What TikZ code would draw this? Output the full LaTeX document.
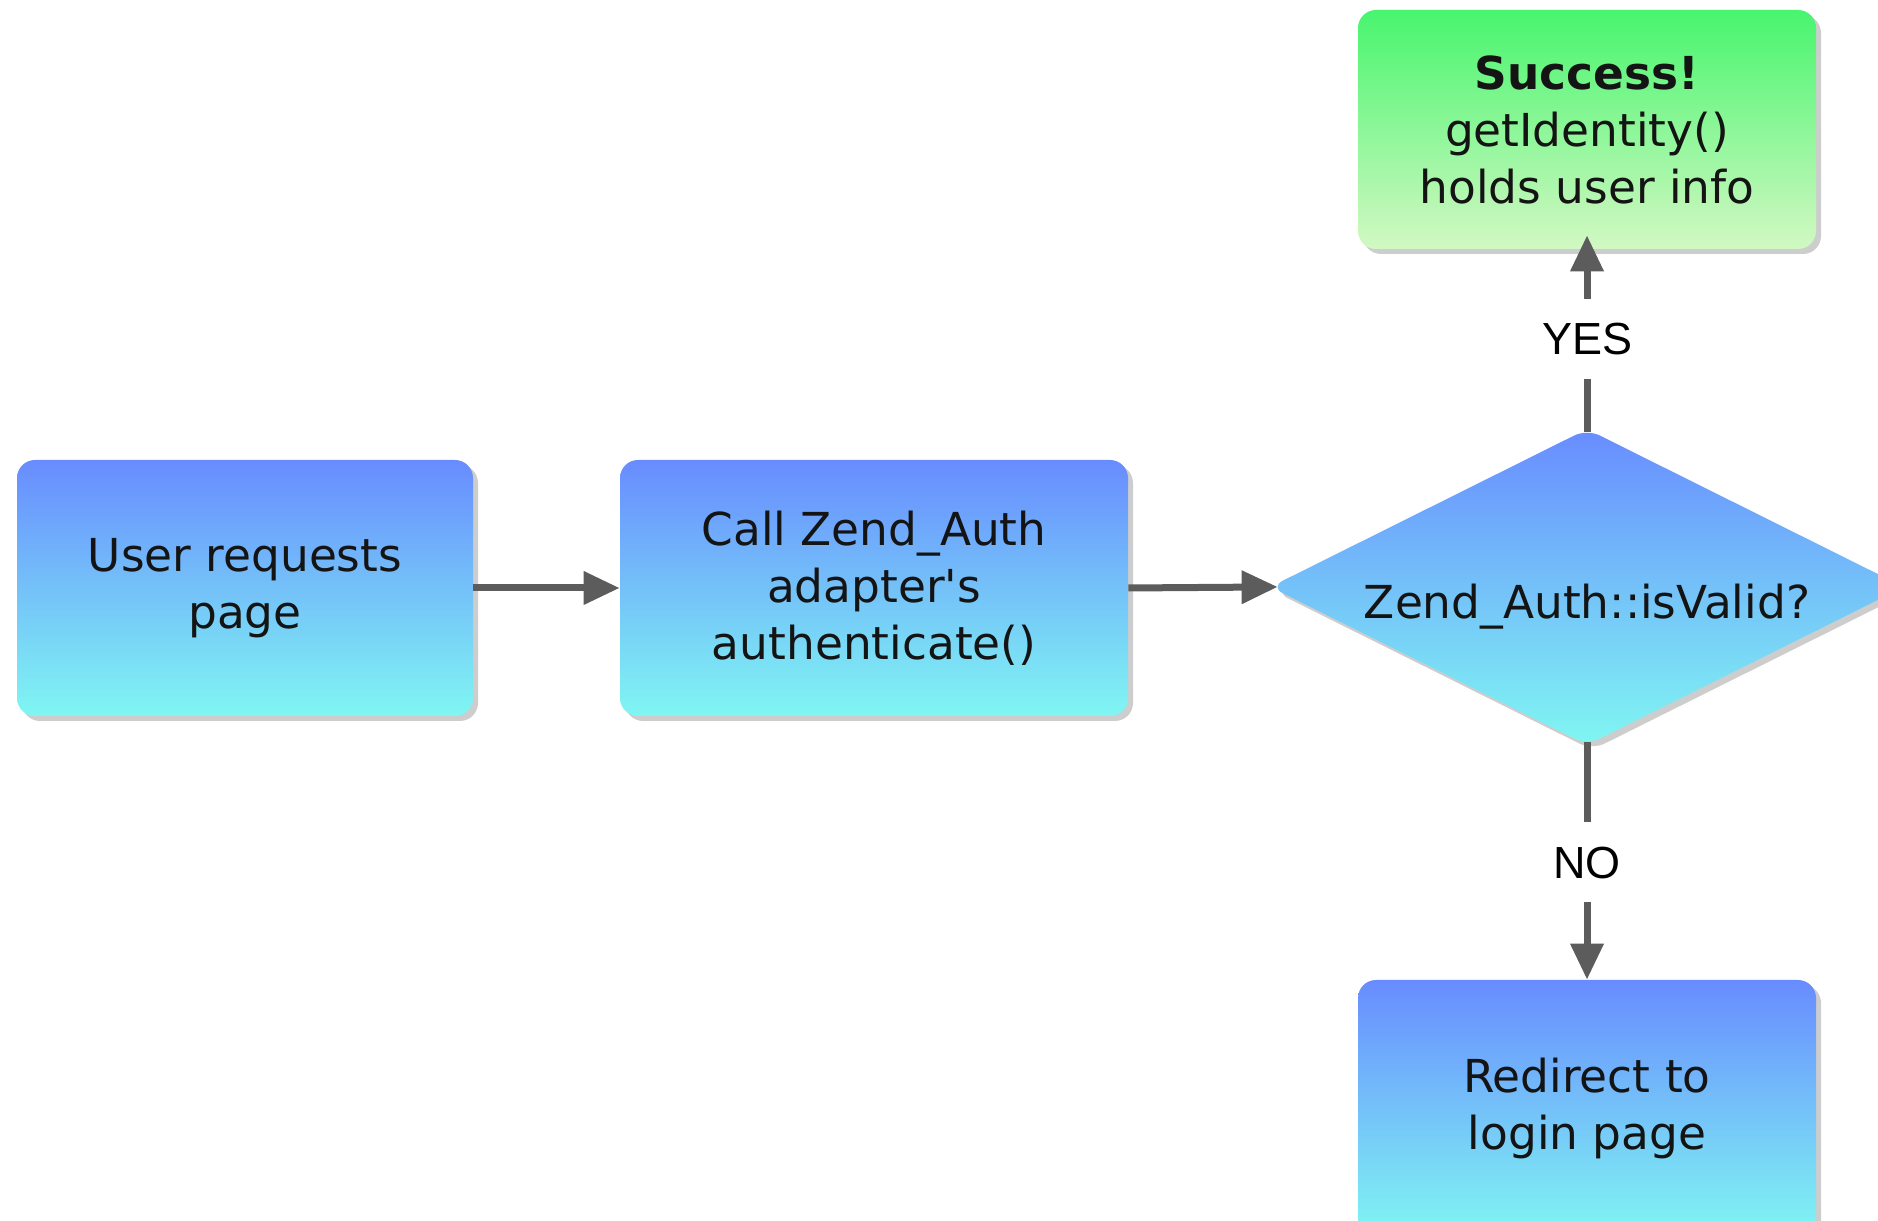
\documentclass[tikz,border=0pt]{standalone}
\usepackage{fontspec}
\setmainfont{DejaVu Sans}
\newfontfamily\lblfont{Liberation Sans}
\usetikzlibrary{arrows.meta,shapes.geometric,shadows}
\definecolor{btop}{RGB}{104,140,255}
\definecolor{bbot}{RGB}{128,246,242}
\definecolor{gtop}{RGB}{72,245,110}
\definecolor{gbot}{RGB}{210,248,195}
\definecolor{arr}{RGB}{92,92,92}
\definecolor{shd}{RGB}{205,205,205}
\begin{document}
\begin{tikzpicture}[x=0.5pt,y=0.5pt,
  boxfont/.style={font=\fontsize{22.7pt}{28.5pt}\selectfont},
  shadowed/.style={drop shadow={shadow xshift=2.5pt, shadow yshift=-2.5pt, fill=shd, opacity=1}},
  procbox/.style={rectangle, rounded corners=9pt, top color=btop, bottom color=bbot,
    draw=none, align=center, boxfont, text=black!92, inner sep=0pt, shadowed},
  okbox/.style={procbox, top color=gtop, bottom color=gbot},
  decision/.style={diamond, aspect=2, rounded corners=7pt, top color=btop, bottom color=bbot,
    draw=none, align=center, boxfont, text=black!92, inner sep=0pt,
    minimum width=317pt, minimum height=158pt, shadowed},
  flow/.style={draw=arr, line width=3.5pt, -{Triangle[length=18pt,width=16pt]}},
  elabel/.style={fill=white, text=black, font=\lblfont\fontsize{22.5pt}{27pt}\selectfont,
    text height=16pt, text depth=0pt, inner xsep=4pt, inner ysep=12pt}
]
\useasboundingbox (0,0) rectangle (1878,1220);
\clip (0,0) rectangle (1878,1220);

\node[procbox, minimum width=228pt, minimum height=128pt] (u) at (245,632)
  {User requests\\page};
\node[procbox, minimum width=254pt, minimum height=128pt] (c) at (874,632)
  {Call Zend\_Auth\\adapter\textquotesingle s\\authenticate()};
\node[decision] (d) at (1587,633) {\raisebox{-16pt}[0pt][0pt]{Zend\_Auth::isValid?}};
\node[okbox, minimum width=229pt, minimum height=119.5pt] (s) at (1587,1090.5)
  {\textbf{Success!}\\getIdentity()\\holds user info};
\node[procbox, minimum width=229pt, minimum height=128pt] (r) at (1587,112)
  {Redirect to\\login page};

\draw[flow] (u.east) -- (c.west);
\draw[flow, shorten >=-4pt] (c.east) -- (d.west);
\draw[flow, shorten <=-1.5pt, shorten >=-7pt] (d.north) -- node[elabel] {YES} (s.south);
\draw[flow, shorten <=-1.5pt] (d.south) -- node[elabel] {NO} (r.north);
\end{tikzpicture}
\end{document}
